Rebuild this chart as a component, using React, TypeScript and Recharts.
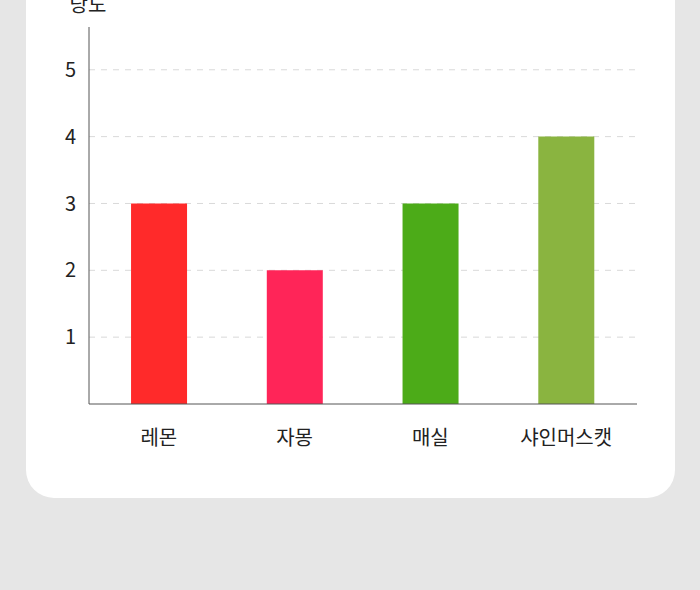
import { Bar, BarChart, CartesianGrid, Cell, XAxis, YAxis } from 'recharts';

const fruits = ['레몬', '자몽', '매실', '샤인머스캣'];
const sweetness = [3, 2, 3, 4];
const barColors = ['#ff2a2a', '#ff2558', '#4cab18', '#8ab440'];
const yTicks = [1, 2, 3, 4, 5];
const yLabel = '당도';

const data = fruits.map((name, i) => ({ name, value: sweetness[i] }));

const FONT = '"Noto Sans CJK KR", "Noto Sans", sans-serif';

export default function App() {
  return (
    <div
      style={{
        position: 'fixed',
        left: 0,
        top: 0,
        width: 700,
        height: 590,
        background: '#e6e6e6',
        overflow: 'hidden',
        fontFamily: FONT,
      }}
    >
      <div
        style={{
          position: 'absolute',
          left: 26,
          top: -40,
          width: 649,
          height: 538,
          background: '#fff',
          borderRadius: 28,
        }}
      />
      <div style={{ position: 'absolute', left: 0, top: 0 }}>
        <BarChart
          width={700}
          height={590}
          data={data}
          margin={{ top: 27, right: 63, left: 0, bottom: 0 }}
          barCategoryGap="29.5%"
        >
          <CartesianGrid
            vertical={false}
            horizontalValues={yTicks}
            stroke="#d9d9d9"
            strokeDasharray="6 6"
          />
          <XAxis
            dataKey="name"
            height={186}
            padding={{ left: 2, right: 3 }}
            axisLine={{ stroke: '#555', strokeWidth: 1 }}
            tickLine={false}
            tickMargin={21}
            tick={{ fill: '#222', fontSize: 20, fontFamily: FONT }}
          />
          <YAxis
            width={89}
            domain={[0, 5.64]}
            ticks={yTicks}
            axisLine={{ stroke: '#555', strokeWidth: 1 }}
            tickLine={false}
            tickMargin={7}
            tick={{ fill: '#222', fontSize: 20, fontFamily: FONT }}
            label={{
              content: (props: any) => (
                <text
                  x={props.viewBox.x + props.viewBox.width - 1}
                  y={props.viewBox.y - 15}
                  textAnchor="middle"
                  fill="#222"
                  fontSize={20}
                  fontFamily={FONT}
                >
                  {yLabel}
                </text>
              ),
            }}
          />
          <Bar dataKey="value" isAnimationActive={false}>
            {data.map((d, i) => (
              <Cell key={d.name} fill={barColors[i]} />
            ))}
          </Bar>
        </BarChart>
      </div>
    </div>
  );
}
